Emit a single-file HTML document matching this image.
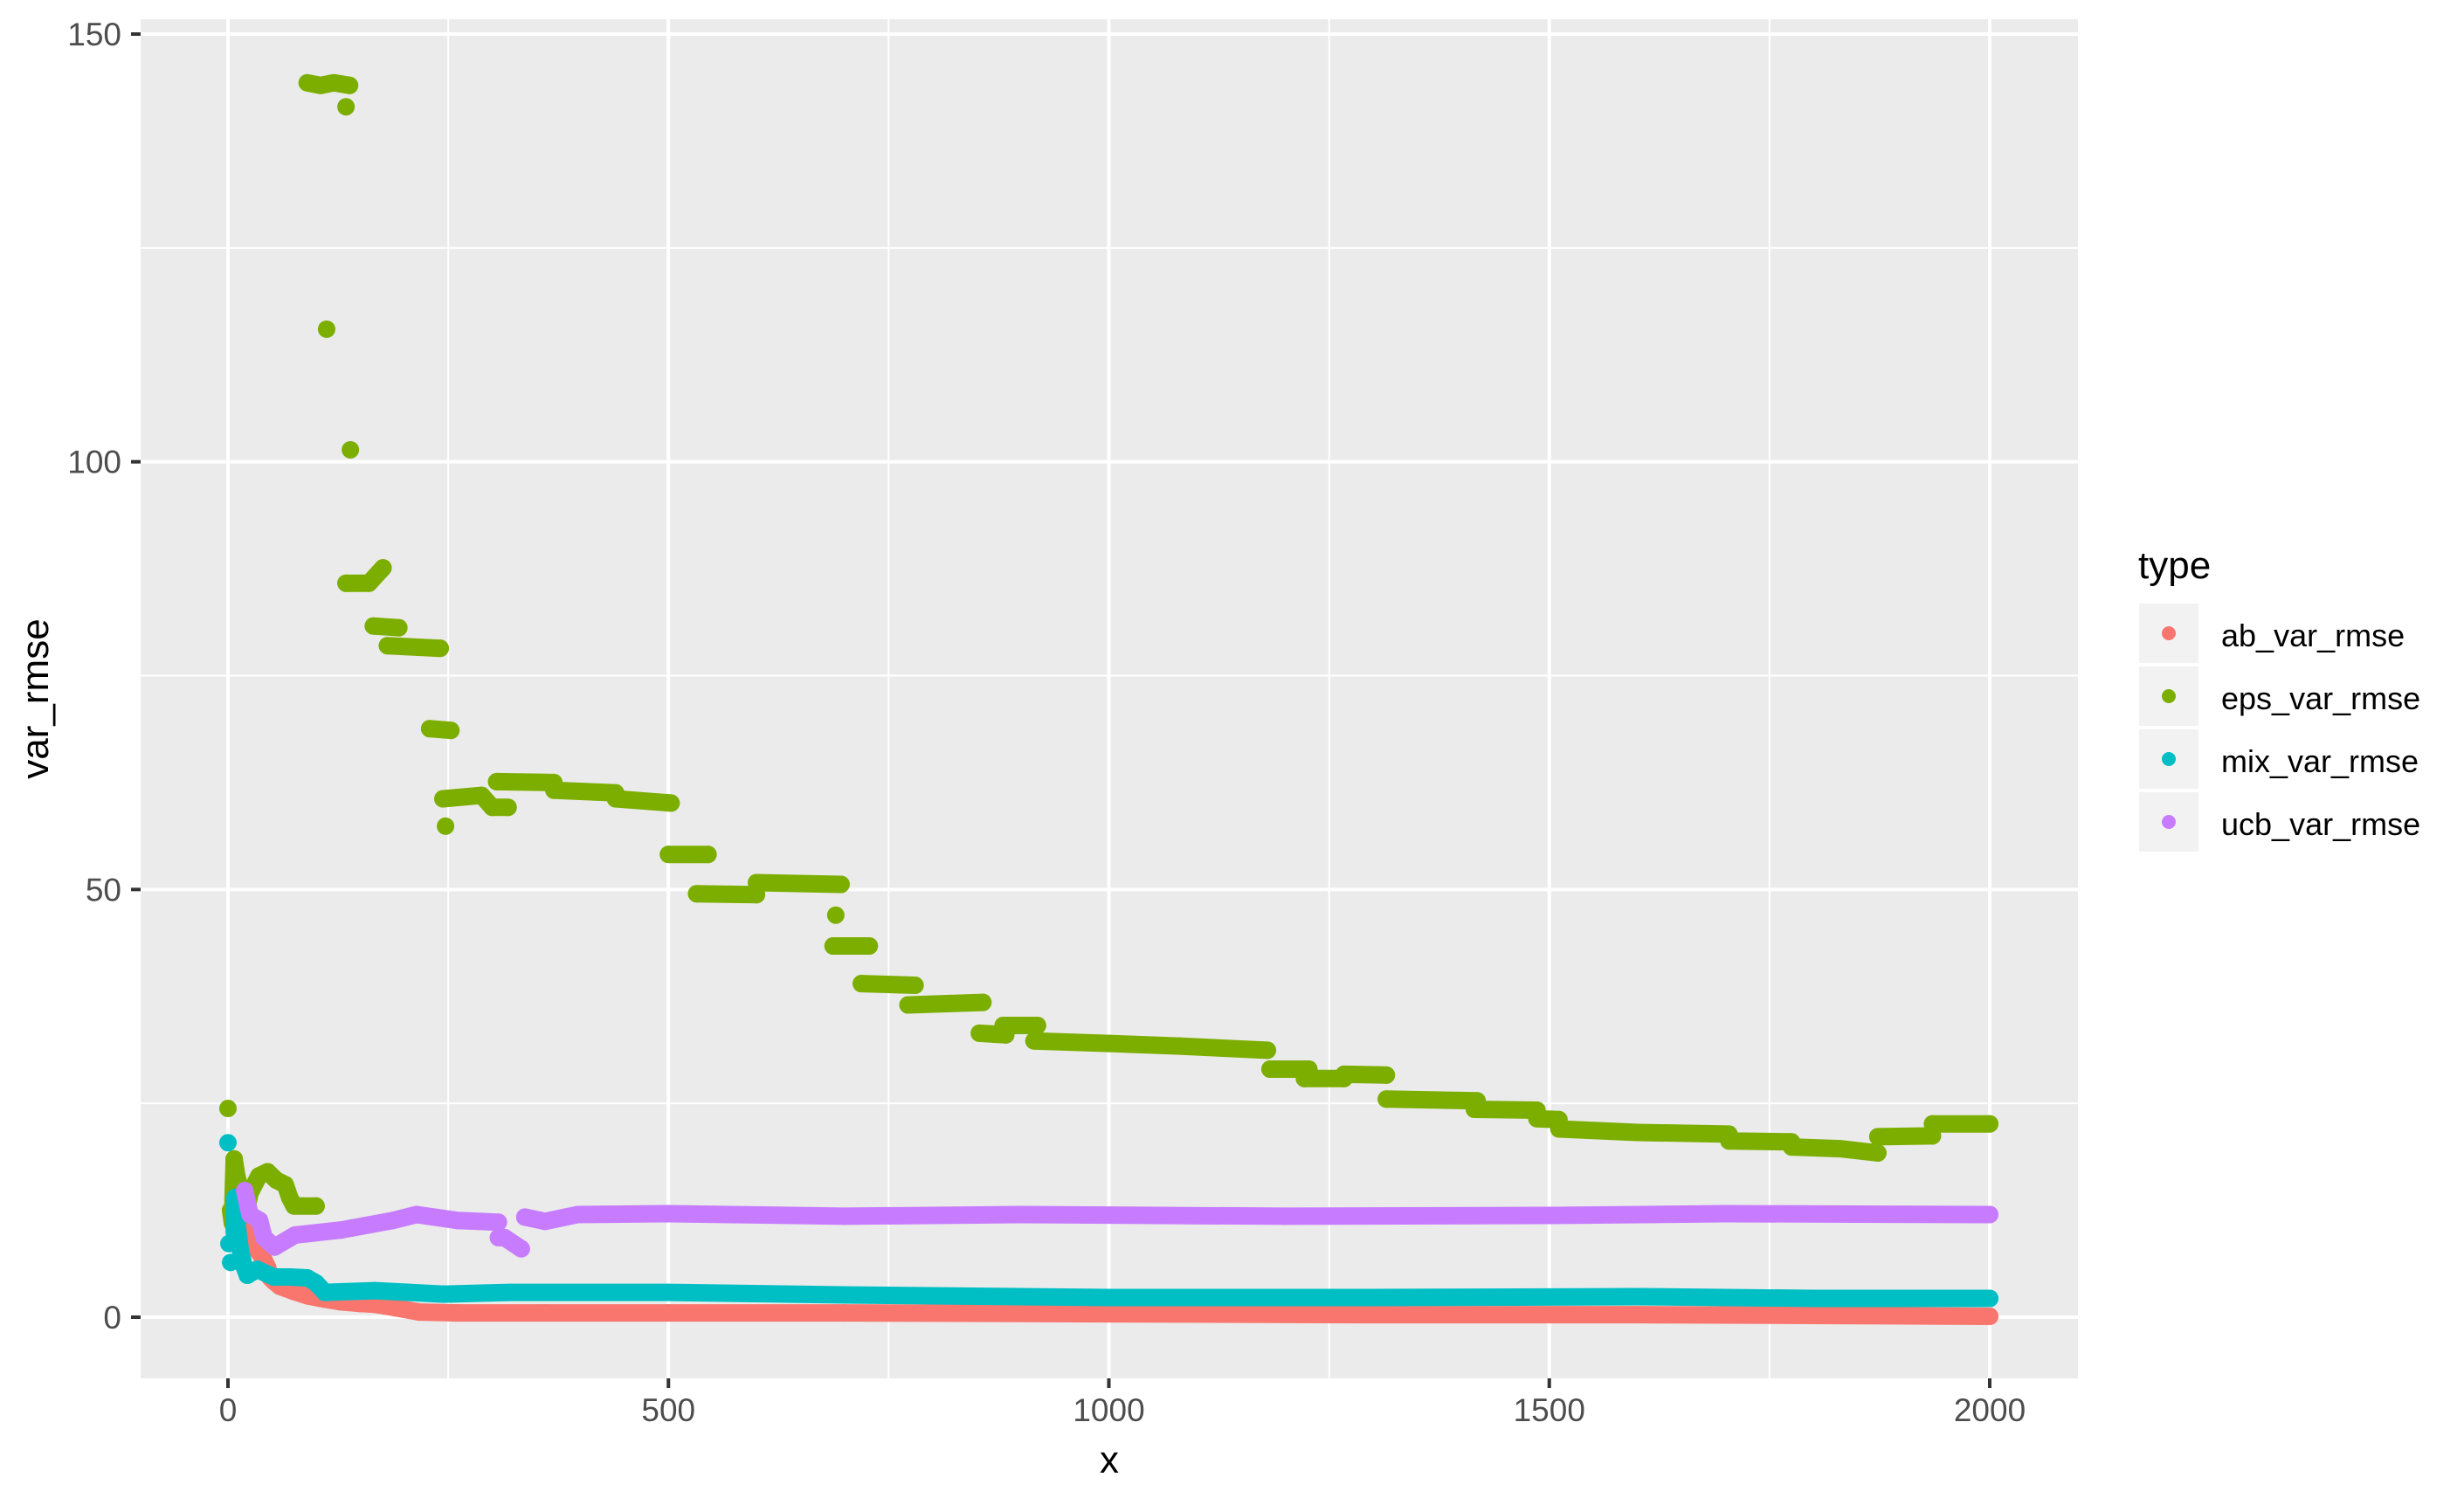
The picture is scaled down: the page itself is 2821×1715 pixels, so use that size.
<!DOCTYPE html>
<html><head><meta charset="utf-8"><style>
html,body{margin:0;padding:0;background:#fff;}
svg{display:block;font-family:"Liberation Sans",Arial,sans-serif;}
</style></head><body>
<svg id="chart" width="2821" height="1715" viewBox="0 0 2821 1715" xmlns="http://www.w3.org/2000/svg">
<rect x="0" y="0" width="2821" height="1715" fill="#fff"/>
<rect x="161" y="22" width="2218" height="1556" fill="#ebebeb"/>
<g id="grid"></g>
<g id="series"></g>
<g id="axes"></g>
<text x="1270" y="1686" font-size="44" text-anchor="middle" fill="#000">x</text>
<text transform="translate(55,800) rotate(-90)" font-size="44" text-anchor="middle" fill="#000">var_rmse</text>
<g>
<text x="2448" y="662" font-size="44" fill="#000">type</text>
<g id="legend-entries"></g>
</g>
</svg>
<script>
const xTicks=[0,500,1000,1500,2000];
const xMinor=[250,750,1250,1750];
const yTicks=[0,50,100,150];
const yMinor=[25,75,125];
const seriesNames=["ab_var_rmse","eps_var_rmse","mix_var_rmse","ucb_var_rmse"];
const seriesColors=["#F8766D","#7CAE00","#00BFC4","#C77CFF"];
// NaN = break between runs
const abX=[20,24,32,40,45,48,52,59,75,90,110,128,150,167,190,217,260,359,500,700,1000,1300,1600,1800,2000];
const abY=[10,9.0,8,6.9,5.8,4.6,4.2,3.6,3.0,2.5,2.1,1.8,1.6,1.5,1.1,0.6,0.5,0.5,0.5,0.5,0.4,0.3,0.3,0.2,0.1];
const epsX=[0,NaN,3,5,7,10,15,20,25,35,45,55,65,70,75,100,NaN,90,105,120,138,NaN,134,NaN,112,NaN,139,NaN,134,160,176,NaN,165,194,NaN,181,241,NaN,229,253,NaN,244,288,300,318,NaN,247,NaN,305,370,370,440,440,503,NaN,500,545,NaN,532,600,NaN,600,696,NaN,690,NaN,687,728,NaN,719,780,NaN,772,857,NaN,853,883,NaN,880,919,NaN,915,1000,1080,1180,NaN,1183,1227,NaN,1222,1267,NaN,1267,1315,NaN,1315,1418,NaN,1415,1486,NaN,1486,1511,NaN,1511,1600,1704,NaN,1704,1775,NaN,1775,1830,1873,NaN,1873,1935,NaN,1935,2000];
const epsY=[24.4,NaN,12.5,11,18.5,16.5,14.5,12,14.5,16.5,17,16,15.5,14,13,13,NaN,144.3,144,144.3,144.0,NaN,141.5,NaN,115.5,NaN,101.4,NaN,85.8,85.8,87.6,NaN,80.8,80.6,NaN,78.5,78.2,NaN,68.8,68.6,NaN,60.6,61,59.6,59.6,NaN,57.4,NaN,62.6,62.5,61.6,61.3,60.6,60.1,NaN,54.1,54.1,NaN,49.5,49.4,NaN,50.8,50.6,NaN,47.0,NaN,43.4,43.4,NaN,39.0,38.8,NaN,36.5,36.8,NaN,33.2,33.0,NaN,34.1,34.1,NaN,32.3,32.0,31.7,31.2,NaN,29.0,29.0,NaN,27.9,27.9,NaN,28.4,28.3,NaN,25.5,25.3,NaN,24.3,24.2,NaN,23.2,23.1,NaN,22.0,21.6,21.4,NaN,20.6,20.5,NaN,19.9,19.7,19.2,NaN,21.1,21.2,NaN,22.6,22.6];
const mixX=[0,NaN,1,NaN,3,NaN,7,8,10,14,18,22,33,52,70,90,100,110,167,244,320,500,700,1000,1300,1600,1800,2000];
const mixY=[20.4,NaN,8.6,NaN,6.4,NaN,10,14,11,7.9,6,4.9,5.6,4.7,4.7,4.6,4.0,2.9,3.1,2.7,2.9,2.9,2.6,2.3,2.3,2.4,2.2,2.2];
const ucbX=[19,25,36,41,53,76,129,187,214,261,307,NaN,307,314,333,NaN,337,360,397,500,700,900,1200,1500,1700,2000];
const ucbY=[14.8,12,11.3,9.3,8.2,9.6,10.2,11.3,12.0,11.3,11.1,NaN,9.3,9.3,8.0,NaN,11.7,11.2,12.0,12.1,11.8,12.0,11.8,11.9,12.1,12.0];
const seriesX=[abX,epsX,mixX,ucbX];
const seriesY=[abY,epsY,mixY,ucbY];

const NS="http://www.w3.org/2000/svg";
const L=161,R=2379,T=22,B=1578;
function sx(v){return 261+v*(2278-261)/2000;}
function sy(v){return 1508-v*(1508-39)/150;}
function mk(tag,attrs,parent){const e=document.createElementNS(NS,tag);for(const k in attrs)e.setAttribute(k,attrs[k]);parent.appendChild(e);return e;}
const grid=document.getElementById('grid');
xMinor.forEach(v=>{const e=mk('line',{x1:sx(v),x2:sx(v),y1:T,y2:B,stroke:'#fff','stroke-width':2},grid);

});
yMinor.forEach(v=>{const e=mk('line',{x1:L,x2:R,y1:sy(v),y2:sy(v),stroke:'#fff','stroke-width':2},grid);

});
xTicks.forEach(v=>{const e=mk('line',{x1:sx(v),x2:sx(v),y1:T,y2:B,stroke:'#fff','stroke-width':4},grid);

});
yTicks.forEach(v=>{const e=mk('line',{x1:L,x2:R,y1:sy(v),y2:sy(v),stroke:'#fff','stroke-width':4},grid);

});
const axes=document.getElementById('axes');
xTicks.forEach(v=>{const t=mk('line',{x1:sx(v),x2:sx(v),y1:B,y2:B+11,stroke:'#333','stroke-width':4},axes);


const l=mk('text',{x:sx(v),y:1627,'font-size':37,'text-anchor':'middle',fill:'#4d4d4d'},axes);l.textContent=v;

});
yTicks.forEach(v=>{const t=mk('line',{x1:L-11,x2:L,y1:sy(v),y2:sy(v),stroke:'#333','stroke-width':4},axes);


const l=mk('text',{x:139,y:sy(v)+13,'font-size':37,'text-anchor':'end',fill:'#4d4d4d'},axes);l.textContent=v;

});
const sg=document.getElementById('series');
seriesX.forEach((xs,i)=>{
  const ys=seriesY[i];let d='',start=true;
  const g=mk('g',{},sg);
  
  
  for(let k=0;k<xs.length;k++){
    if(isNaN(xs[k])){start=true;continue;}
    d+=(start?'M':'L')+sx(xs[k]).toFixed(1)+','+sy(ys[k]).toFixed(1)+' ';start=false;
  }
  const p=mk('path',{d:d,fill:'none',stroke:seriesColors[i],'stroke-width':20,'stroke-linecap':'round','stroke-linejoin':'round'},g);
  
  
  for(let k=0;k<xs.length;k++){
    if(isNaN(xs[k]))continue;
    const c=mk('circle',{cx:sx(xs[k]),cy:sy(ys[k]),r:10,fill:seriesColors[i]},g);
    
    
  }
});
const lg=document.getElementById('legend-entries');
seriesNames.forEach((n,i)=>{
  const y0=691+i*72;
  const k=mk('rect',{x:2449,y:y0,width:68,height:68,fill:'#f2f2f2'},lg);
  
  
  const c=mk('circle',{cx:2483,cy:y0+34,r:8,fill:seriesColors[i]},lg);
  
  
  const t=mk('text',{x:2543,y:y0+49,'font-size':36,fill:'#000'},lg);t.textContent=n;
  
  
});
</script>
</body></html>
